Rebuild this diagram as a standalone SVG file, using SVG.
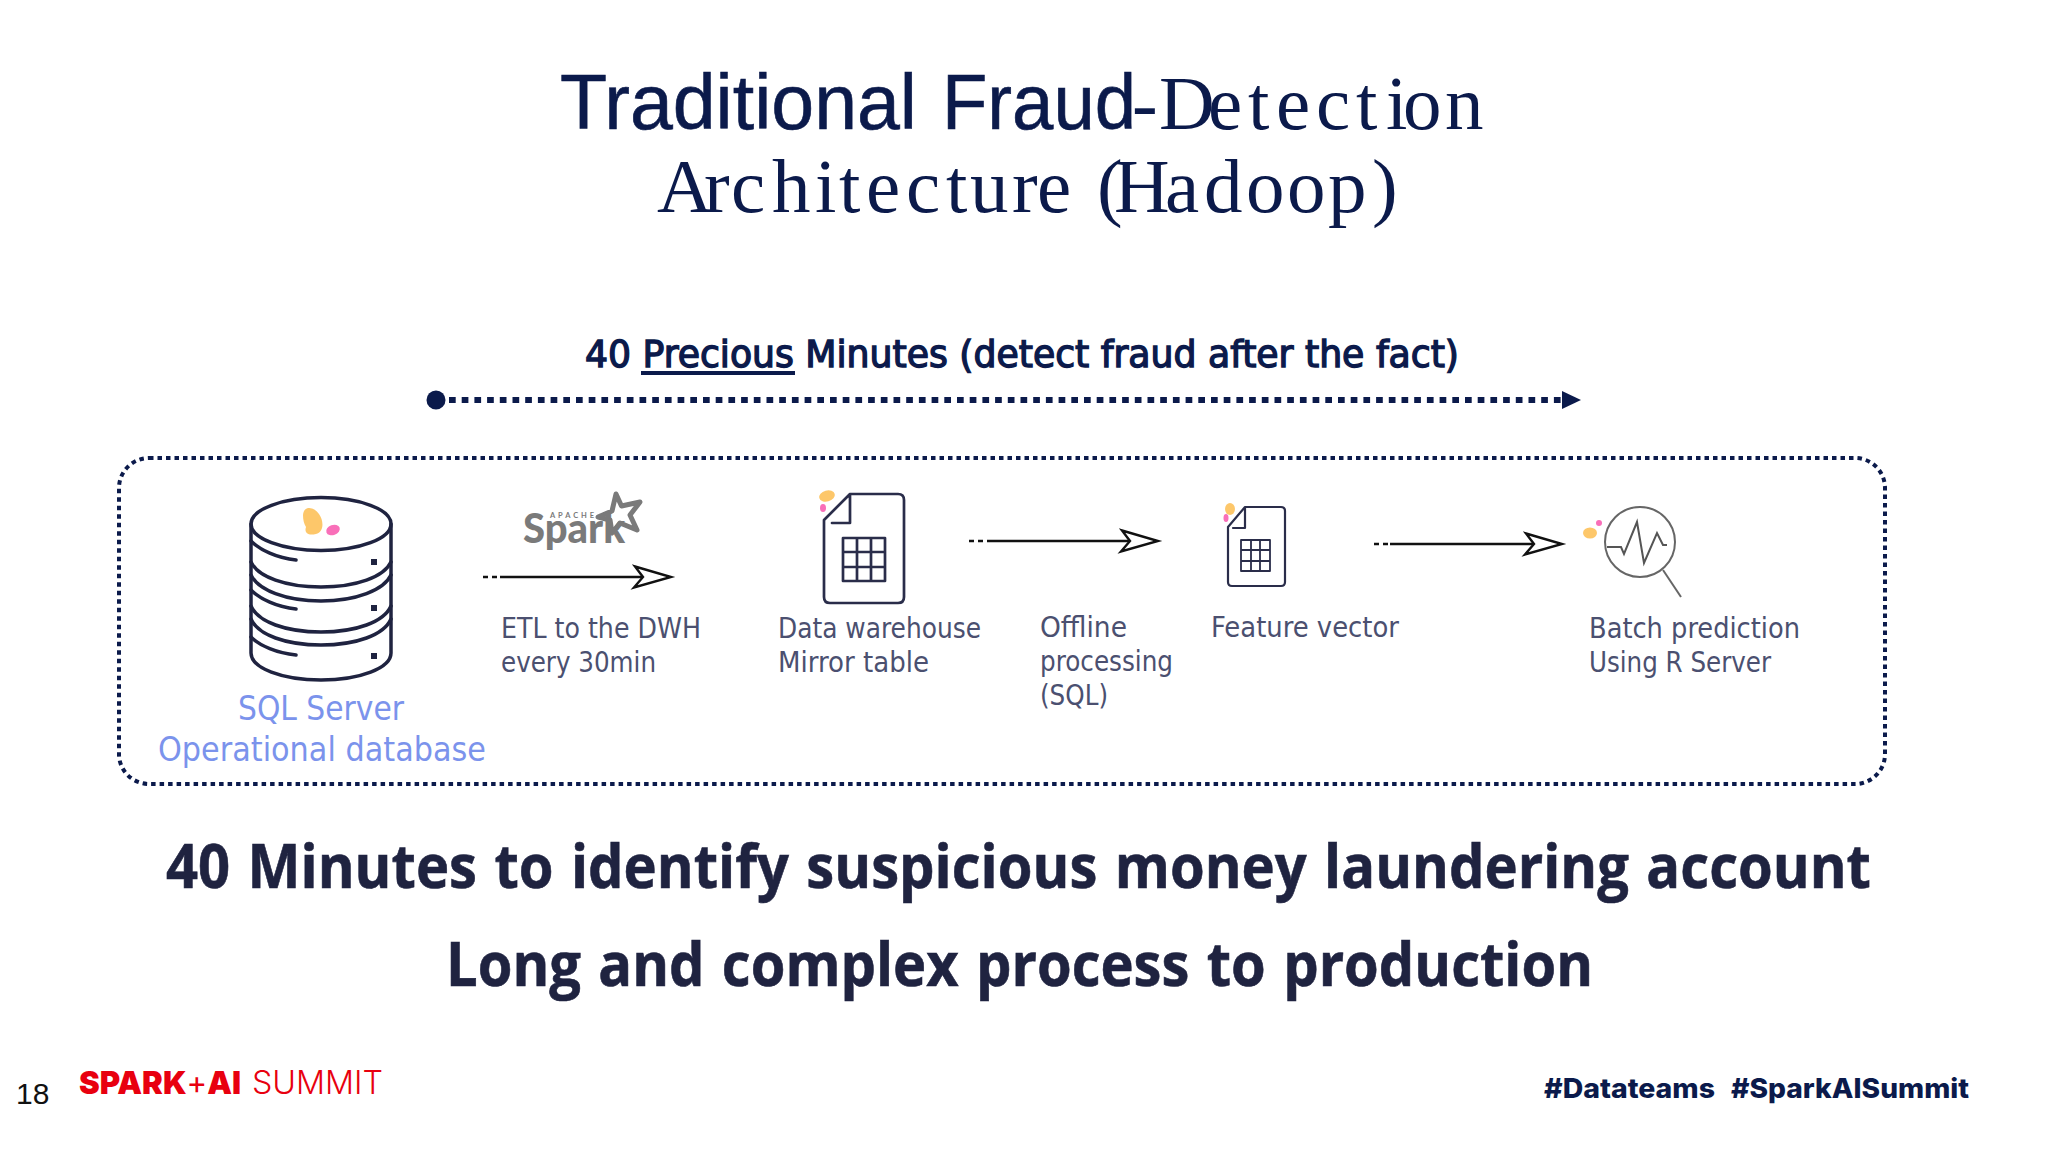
<svg xmlns="http://www.w3.org/2000/svg" width="2048" height="1152" viewBox="0 0 2048 1152">
<style>
.ttl{font-size:77px;fill:#0b1a4b}
.sans{font-family:"Liberation Sans",Arial,sans-serif}
.serif{font-family:"Liberation Serif","Times New Roman",serif}
.tah{font-family:"DejaVu Sans",Verdana,sans-serif;font-stretch:condensed}
.lab{font-size:28px;fill:#4b5070}
.blue{font-size:33px;fill:#7b93ec}
.big{font-family:"Open Sans","Noto Sans",sans-serif;font-weight:700;font-size:60px;fill:#1f2340;stroke:#1f2340;stroke-width:.6px;word-spacing:3px}
.mont{font-family:Inter,"Noto Sans",sans-serif}
.ln{fill:none;stroke:#2a2d4a;stroke-width:3;stroke-linecap:round;stroke-linejoin:round}
.db{stroke:#1f2340;stroke-width:3.500}
.org{fill:#fdc76a}.pnk{fill:#f96fb9}
.ar{stroke:#111;stroke-width:2.600;fill:none}
.ard{stroke:#111;stroke-width:2.600;stroke-dasharray:5 4;fill:none}
</style>
<defs>
<marker id="open" markerUnits="userSpaceOnUse" markerWidth="50" markerHeight="30" refX="5" refY="15" orient="auto" overflow="visible">
<path d="M-3 4.500 L33 15 L-4 25.500 L5 15 Z" fill="#fff" stroke="#111" stroke-width="2.400" stroke-linejoin="miter"/>
</marker>
</defs>
<rect width="2048" height="1152" fill="#fff"/>
<g id="title">
<text class="ttl sans" y="129" stroke="#0b1a4b" stroke-width="0.600"><tspan x="560" textLength="357" lengthAdjust="spacingAndGlyphs">Traditional</tspan><tspan x="942" textLength="194" lengthAdjust="spacingAndGlyphs">Fraud</tspan></text>
<text class="ttl serif" y="129" x="1132 1159 1208 1248 1276 1316 1356 1386 1403 1445">-Detection</text>
<text class="ttl serif" y="212" x="657 704 731 772 815 839 866 906 946 970 1012 1037 1075 1097 1114 1165 1204 1246 1287 1328 1372">Architecture (Hadoop)</text>
</g>
<g id="timeline-label">
<text class="tah" x="585" y="367" font-size="38" fill="#0b1a4b" stroke="#0b1a4b" stroke-width="1.300" textLength="874" lengthAdjust="spacingAndGlyphs">40 Precious Minutes (detect fraud after the fact)</text>
<rect x="641" y="371" width="154" height="4" fill="#0b1a4b"/>
</g>
<g id="connectors">
<g id="timeline">
<circle cx="436" cy="400" r="9.500" fill="#0b1a4b"/>
<path d="M449 400H1562" stroke="#0b1a4b" stroke-width="6" stroke-dasharray="6.700 6" fill="none"/>
<path d="M1562 391L1581 400L1562 409Z" fill="#0b1a4b"/>
</g>
<path id="a1d" class="ard" d="M483 577H497"/><path id="a1" class="ar" d="M500 577H643" marker-end="url(#open)"/>
<path id="a2d" class="ard" d="M969 541H983"/><path id="a2" class="ar" d="M987 541H1130" marker-end="url(#open)"/>
<path id="a3d" class="ard" d="M1374 544H1388"/><path id="a3" class="ar" d="M1390 544H1534" marker-end="url(#open)"/>
</g>
<rect id="frame" x="119" y="458" width="1766" height="326" rx="30" fill="none" stroke="#0b1a4b" stroke-width="4" stroke-dasharray="4.500 4"/>
<g id="sql-server">
<g class="ln db">
<ellipse cx="321" cy="524" rx="70" ry="26.500"/>
<path d="M251 524V653C251 668 282 680 321 680S391 668 391 653V524"/>
<path d="M251 562C258 577 286 587 321 587S384 577 391 562"/>
<path d="M251 575C258 590 286 601 321 601S384 590 391 575"/>
<path d="M251 606C258 622 286 632 321 632S384 622 391 606"/>
<path d="M251 619C258 635 286 645 321 645S384 635 391 619"/>
<path d="M251 541C260 550 277 558 296 560"/>
<path d="M251 590C260 599 277 607 296 609"/>
<path d="M251 637C260 646 277 653 296 655"/>
</g>
<path d="M371 559h6v6h-6zM371 605h6v6h-6zM371 653h6v6h-6z" fill="#1f2340"/>
<path class="org" d="M303 515C304 505 314 507 319 514C324 521 324 532 316 534C308 536 304 533 306 527C304 524 303 520 303 515Z"/>
<ellipse class="pnk" cx="333" cy="530" rx="7" ry="5" transform="rotate(-20 333 530)"/>
<text class="tah blue" x="321" y="720" text-anchor="middle" textLength="166" lengthAdjust="spacingAndGlyphs">SQL Server</text>
<text class="tah blue" x="158" y="761" textLength="328" lengthAdjust="spacingAndGlyphs">Operational database</text>
</g>
<g id="etl">
<g id="spark-logo">
<path d="M616 494L621.500 506L640 502L630 515L637 530L620 523L612 533L610 520L598 517L612 511Z" fill="none" stroke="#7a7a7a" stroke-width="5" stroke-linejoin="round"/>
<text x="523" y="543" font-family="Lato,'Open Sans',sans-serif" font-weight="900" font-size="41" fill="#7a7a7a" textLength="102" lengthAdjust="spacingAndGlyphs">Spark</text>
<text x="550" y="518" font-family="Lato,'Open Sans',sans-serif" font-weight="700" font-size="7.500" fill="#7a7a7a" textLength="44">APACHE</text>
</g>
<text class="tah lab" x="501" y="638" textLength="200" lengthAdjust="spacingAndGlyphs">ETL to the DWH</text>
<text class="tah lab" x="501" y="672" textLength="155" lengthAdjust="spacingAndGlyphs">every 30min</text>
</g>
<g id="data-warehouse">
<path class="ln" style="stroke-width:2.700" d="M850 494H898Q904 494 904 500V597Q904 603 898 603H830Q824 603 824 597V520ZM850 494V523H832"/>
<path class="ln" style="stroke-width:2.700" d="M843 538H885V581H843ZM857 538V581M871 538V581M843 552H885M843 567H885"/>
<ellipse class="org" cx="827" cy="496" rx="8" ry="5.500" transform="rotate(-15 827 496)"/>
<ellipse class="pnk" cx="823" cy="508" rx="3" ry="4"/>
<text class="tah lab" x="778" y="638" textLength="203" lengthAdjust="spacingAndGlyphs">Data warehouse</text>
<text class="tah lab" x="778" y="672" textLength="151" lengthAdjust="spacingAndGlyphs">Mirror table</text>
</g>
<g id="offline-processing">
<text class="tah lab" x="1040" y="637" textLength="87" lengthAdjust="spacingAndGlyphs">Offline</text>
<text class="tah lab" x="1040" y="671" textLength="133" lengthAdjust="spacingAndGlyphs">processing</text>
<text class="tah lab" x="1040" y="705" textLength="68" lengthAdjust="spacingAndGlyphs">(SQL)</text>
</g>
<g id="feature-vector">
<path class="ln" style="stroke-width:2.200" d="M1245 507H1281Q1285 507 1285 511V582Q1285 586 1281 586H1232Q1228 586 1228 582V527ZM1245 507V528H1233"/>
<path class="ln" style="stroke-width:1.800" d="M1241 540H1270V571H1241ZM1251 540V571M1260 540V571M1241 550H1270M1241 561H1270"/>
<ellipse class="org" cx="1230" cy="509" rx="5" ry="6"/>
<ellipse class="pnk" cx="1226" cy="518" rx="2.500" ry="4"/>
<text class="tah lab" x="1211" y="637" textLength="188" lengthAdjust="spacingAndGlyphs">Feature vector</text>
</g>
<g id="batch-prediction">
<circle cx="1640" cy="542" r="35" fill="none" stroke="#666" stroke-width="2"/>
<path d="M1663 570L1681 597" fill="none" stroke="#666" stroke-width="2"/>
<path d="M1607 547H1621L1624 554L1637 522L1644 563L1657 533L1663 545H1667" fill="none" stroke="#555" stroke-width="2"/>
<ellipse class="org" cx="1590" cy="533" rx="7" ry="5.500"/>
<circle class="pnk" cx="1599" cy="523" r="3"/>
<text class="tah lab" x="1589" y="638" textLength="211" lengthAdjust="spacingAndGlyphs">Batch prediction</text>
<text class="tah lab" x="1589" y="672" textLength="182" lengthAdjust="spacingAndGlyphs">Using R Server</text>
</g>
<g id="summary">
<text class="big" x="166" y="888" textLength="1705" lengthAdjust="spacingAndGlyphs">40 Minutes to identify suspicious money laundering account</text>
<text class="big" x="446" y="986" textLength="1147" lengthAdjust="spacingAndGlyphs">Long and complex process to production</text>
</g>
<g id="footer">
<text class="sans" x="16" y="1104" font-size="30" fill="#111">18</text>
<text class="mont" x="79" y="1094" font-size="32" font-weight="900" fill="#e8000f" textLength="162" lengthAdjust="spacingAndGlyphs">SPARK<tspan font-weight="400">+</tspan>AI</text>
<text class="mont" x="252" y="1094" font-size="32" font-weight="300" fill="#e8000f" textLength="131" lengthAdjust="spacingAndGlyphs">SUMMIT</text>
<text class="mont" x="1544" y="1098" font-size="27" font-weight="800" fill="#0b1a4b" textLength="171" lengthAdjust="spacingAndGlyphs">#Datateams</text>
<text class="mont" x="1731" y="1098" font-size="27" font-weight="800" fill="#0b1a4b" textLength="238" lengthAdjust="spacingAndGlyphs">#SparkAISummit</text>
</g>
</svg>
